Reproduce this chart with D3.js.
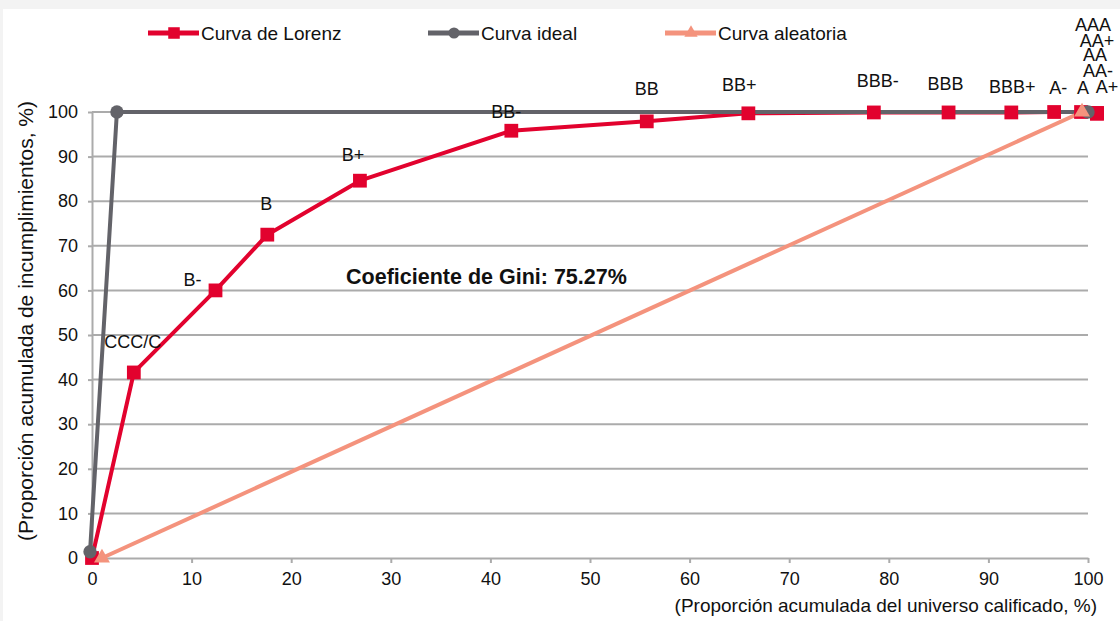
<!DOCTYPE html>
<html>
<head>
<meta charset="utf-8">
<script src="https://cdn.jsdelivr.net/npm/d3@7"></script>
<style>
  body { margin: 0; background: #f3f3f3; }
  svg { display: block; font-family: "Liberation Sans", Arial, sans-serif; }
</style>
</head>
<body>
<svg id="chart" width="1120" height="621"></svg>
<script>
// --- datos ---
const grades  = ["", "CCC/C", "B-", "B", "B+", "BB-", "BB", "BB+", "BBB-", "BBB", "BBB+", "A-", "A", "A+", "AA-", "AA", "AA+", "AAA"];
const lorenzX = [0, 4.2, 12.4, 17.6, 26.9, 42.1, 55.7, 65.9, 78.5, 86.0, 92.3, 96.6, 99.3, 100.9, 100.9, 100.9, 100.9, 100.9];
const lorenzY = [0, 41.6, 60.0, 72.5, 84.6, 95.8, 97.9, 99.7, 99.9, 99.9, 99.9, 100, 100, 99.7, 99.7, 99.7, 99.7, 99.7];

const idealX = [-0.2, 2.5, 100];
const idealY = [1.4, 100, 100];

const randomX = [1.0, 99.4];
const randomY = [0, 100];

const xTicks = [0, 10, 20, 30, 40, 50, 60, 70, 80, 90, 100];
const yTicks = [0, 10, 20, 30, 40, 50, 60, 70, 80, 90, 100];

const seriesNames = ["Curva de Lorenz", "Curva ideal", "Curva aleatoria"];
const giniText = "Coeficiente de Gini: 75.27%";

// desplazamiento de etiquetas (px) respecto al marcador
const labelDx = [0, -1, -23, -1, -7, -5, 0, -9, 4, -3, 1, 4, 2, 10, 1, -2, 0, -4];
const labelDy = [0, -30, -10, -31, -26, -19, -32, -28, -31, -28, -25, -24, -24, -26, -42, -58, -72, -88];

const RED = "#e2022e", GRAY = "#636369", SALMON = "#f4937d", GRID = "#ababab";

const svg = d3.select("#chart");
svg.append("rect").attr("width", 1120).attr("height", 621).attr("fill", "#f3f3f3");
svg.append("rect").attr("x", 3).attr("y", 9).attr("width", 1117).attr("height", 612).attr("fill", "#fff");

const x = d3.scaleLinear().domain([0, 100]).range([92, 1088]);
const y = d3.scaleLinear().domain([0, 100]).range([558, 112]);

// rejilla
svg.append("g").selectAll("line")
    .data(yTicks.slice(1))
    .join("line")
    .attr("x1", x(0)).attr("x2", x(100))
    .attr("y1", d => y(d)).attr("y2", d => y(d))
    .attr("stroke", GRID).attr("stroke-width", 2);

const yAxis = svg.append("g")
    .attr("transform", `translate(${x(0)},0)`)
    .call(d3.axisLeft(y).tickValues(yTicks).tickSize(4).tickSizeOuter(0).tickPadding(10));
const xAxis = svg.append("g")
    .attr("transform", `translate(0,${y(0)})`)
    .call(d3.axisBottom(x).tickValues(xTicks).tickSize(5).tickSizeOuter(0).tickPadding(9));

[yAxis, xAxis].forEach(g => {
    g.selectAll("path, line").attr("stroke", GRID).attr("stroke-width", 2);
    g.selectAll("text").attr("fill", "#111").style("font-size", "18px").style("font-family", "Liberation Sans, Arial, sans-serif");
});

// títulos de ejes
svg.append("text")
    .attr("transform", `translate(33,321) rotate(-90)`)
    .attr("text-anchor", "middle")
    .style("font-size", "21px").attr("fill", "#111")
    .text("(Proporción acumulada de incumplimientos, %)");
svg.append("text")
    .attr("x", 1097).attr("y", 612)
    .attr("text-anchor", "end")
    .style("font-size", "19px").attr("fill", "#111")
    .text("(Proporción acumulada del universo calificado, %)");

const zip = (xs, ys) => xs.map((v, i) => ({ x: v, y: ys[i], i: i }));
const lorenz = zip(lorenzX, lorenzY);
const ideal = zip(idealX, idealY);
const random = zip(randomX, randomY);

const line = d3.line().x(d => x(d.x)).y(d => y(d.y));

// primero todas las líneas, luego los marcadores
const series = [
    { data: lorenz, color: RED, symbol: d3.symbolSquare, size: 190 },
    { data: ideal, color: GRAY, symbol: d3.symbolCircle, size: 140 },
    { data: random, color: SALMON, symbol: d3.symbolTriangle, size: 110 }
];

series.forEach(s => {
    svg.append("path")
        .datum(s.data)
        .attr("fill", "none")
        .attr("stroke", s.color)
        .attr("stroke-width", 4)
        .attr("stroke-linejoin", "round")
        .attr("d", line);
});

series.forEach(s => {
    svg.append("g").selectAll("path")
        .data(s.data)
        .join("path")
        .attr("transform", d => `translate(${x(d.x)},${y(d.y)})`)
        .attr("fill", s.color)
        .attr("d", d3.symbol(s.symbol, s.size));
});

// etiquetas de calificación
svg.append("g").selectAll("text")
    .data(lorenz.filter(d => grades[d.i] !== ""))
    .join("text")
    .attr("x", d => x(d.x) + labelDx[d.i])
    .attr("y", d => y(d.y) + labelDy[d.i])
    .attr("text-anchor", "middle")
    .attr("dominant-baseline", "central")
    .style("font-size", "18px")
    .attr("fill", "#111")
    .text(d => grades[d.i]);

// Gini
svg.append("text")
    .attr("x", x(39.6)).attr("y", y(63))
    .attr("text-anchor", "middle")
    .attr("dominant-baseline", "central")
    .style("font-size", "21.5px").style("font-weight", "bold")
    .attr("fill", "#111")
    .text(giniText);

// leyenda
const legendX = [148, 428, 665];
const legend = svg.append("g");
series.forEach((s, i) => {
    const g = legend.append("g").attr("transform", `translate(${legendX[i]},33)`);
    g.append("line").attr("x1", 0).attr("x2", 51)
        .attr("stroke", s.color).attr("stroke-width", 5);
    g.append("path").attr("transform", "translate(26,0)")
        .attr("fill", s.color)
        .attr("d", d3.symbol(s.symbol, s.size * 0.7));
    g.append("text").attr("x", 53).attr("y", 0)
        .attr("dominant-baseline", "central")
        .style("font-size", "19px").attr("fill", "#111")
        .text(seriesNames[i]);
});
</script>
</body>
</html>
